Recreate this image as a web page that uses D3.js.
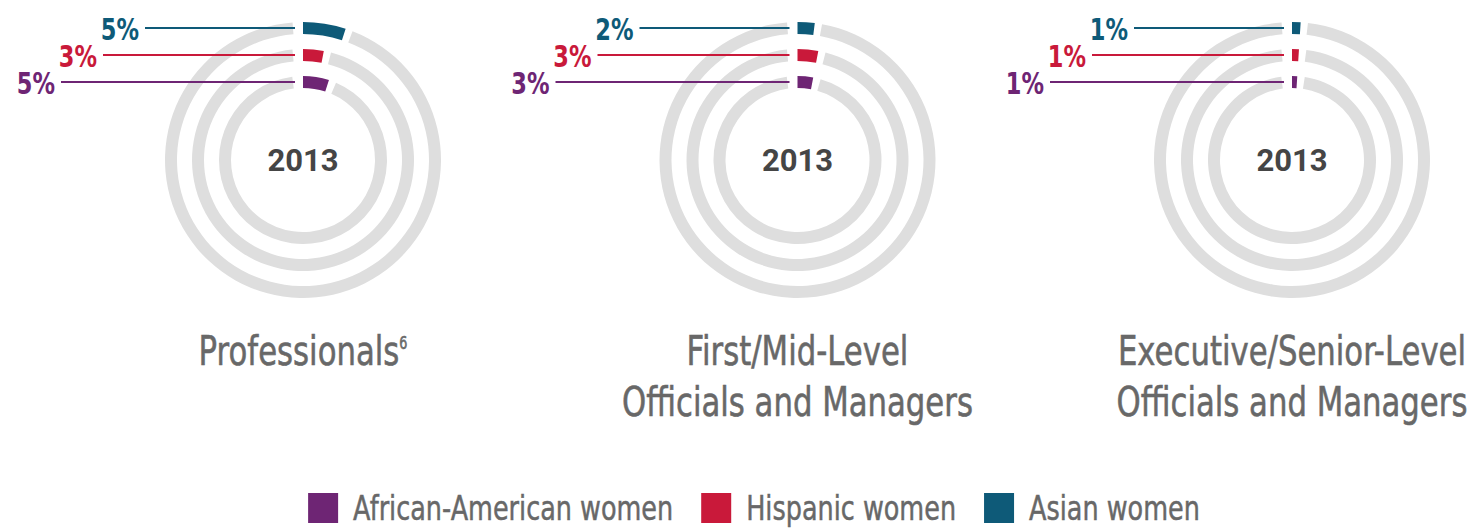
<!DOCTYPE html>
<html>
<head>
<meta charset="utf-8">
<script src="https://cdn.jsdelivr.net/npm/d3@7"></script>
<style>
  html, body { margin: 0; padding: 0; background: #ffffff; }
  svg { display: block; }
</style>
</head>
<body>
<svg id="chart" width="1476" height="531"></svg>
<script>
// ---- data ----
const categories = ["Professionals", "First/Mid-Level Officials and Managers", "Executive/Senior-Level Officials and Managers"];
const titleLines = [["Professionals"], ["First/Mid-Level", "Officials and Managers"], ["Executive/Senior-Level", "Officials and Managers"]];
const titleSup = ["6", "", ""];
const series = ["African-American women", "Hispanic women", "Asian women"];
const africanAmerican = [5, 3, 1];
const hispanic = [3, 3, 1];
const asian = [5, 2, 1];
const centerLabel = "2013";
const seriesColors = ["#6e2574", "#c9193a", "#0e5a78"];

// ---- layout ----
const svg = d3.select("#chart");
const W = 1476;
const cy = 160;
const x = d3.scalePoint().domain(categories).range([303, 1292]);
const ringR = d3.scaleOrdinal().domain(series).range([78, 105, 132]); // mid radius of each ring
const lineStart = d3.scaleOrdinal().domain(series).range([-242, -200, -158]);
const angle = d3.scaleLinear().domain([0, 100]).range([0, 2 * Math.PI]);
const color = d3.scaleOrdinal().domain(series).range(seriesColors);
const thick = 12;
const values = [africanAmerican, hispanic, asian];

const font = "'DejaVu Sans', sans-serif";
const squeeze = 0.75; // emulate the condensed face of the original

categories.forEach((cat, ci) => {
  const cx = x(cat);
  const g = svg.append("g").attr("transform", `translate(${cx},${cy})`);

  series.forEach((s, si) => {
    const r = ringR(s);
    const v = values[si][ci];
    const a1 = angle(v);
    const arc = d3.arc().innerRadius(r - thick / 2).outerRadius(r + thick / 2);
    g.append("path")
      .attr("d", arc({ startAngle: a1 + 7 / r, endAngle: 2 * Math.PI - 10 / r }))
      .attr("fill", "#dedede");
    g.append("path")
      .attr("d", arc({ startAngle: 0, endAngle: a1 }))
      .attr("fill", color(s));
  });

  series.forEach((s, si) => {
    const r = ringR(s);
    const v = values[si][ci];
    const x0 = lineStart(s);
    g.append("line")
      .attr("x1", x0).attr("x2", -8)
      .attr("y1", -r).attr("y2", -r)
      .attr("stroke", color(s))
      .attr("stroke-width", 2);
    g.append("g")
      .attr("transform", `translate(${x0 - 6},${-r + 1}) scale(${squeeze},1)`)
      .append("text")
      .attr("text-anchor", "end")
      .attr("dominant-baseline", "central")
      .attr("font-family", font)
      .attr("font-weight", "bold")
      .attr("font-size", 30)
      .attr("fill", color(s))
      .text(v + "%");
  });

  g.append("text")
    .attr("x", 0).attr("y", 0)
    .attr("text-anchor", "middle")
    .attr("dominant-baseline", "central")
    .attr("font-family", "Roboto, 'Open Sans', sans-serif")
    .attr("font-weight", "bold")
    .attr("font-size", 31)
    .attr("fill", "#454545")
    .text(centerLabel);

  titleLines[ci].forEach((line, li) => {
    const t = svg.append("g")
      .attr("transform", `translate(${cx},${365 + li * 51}) scale(${squeeze},1)`)
      .append("text")
      .attr("text-anchor", "middle")
      .attr("font-family", font)
      .attr("font-size", 41)
      .attr("fill", "#686868")
      .attr("stroke", "#686868")
      .attr("stroke-width", 0.6);
    t.append("tspan").text(line);
    if (li === 0 && titleSup[ci]) {
      t.append("tspan").attr("dy", -16).attr("font-size", 17).text(titleSup[ci]);
    }
  });
});

// ---- legend ----
const legend = svg.append("g");
let lx = 0;
series.forEach((s, i) => {
  const item = legend.append("g").attr("transform", `translate(${lx},0)`);
  item.append("rect").attr("x", 0).attr("y", 493).attr("width", 30).attr("height", 30).attr("fill", color(s));
  const tx = item.append("g")
    .attr("transform", `translate(45,520) scale(${squeeze},1)`)
    .append("text")
    .attr("font-family", font)
    .attr("font-size", 34)
    .attr("fill", "#686868")
    .attr("stroke", "#686868")
    .attr("stroke-width", 0.5)
    .text(s);
  lx += 45 + tx.node().getComputedTextLength() * squeeze + 28;
});
const legendW = lx - 28;
legend.attr("transform", `translate(${754 - legendW / 2},0)`);
</script>
</body>
</html>
